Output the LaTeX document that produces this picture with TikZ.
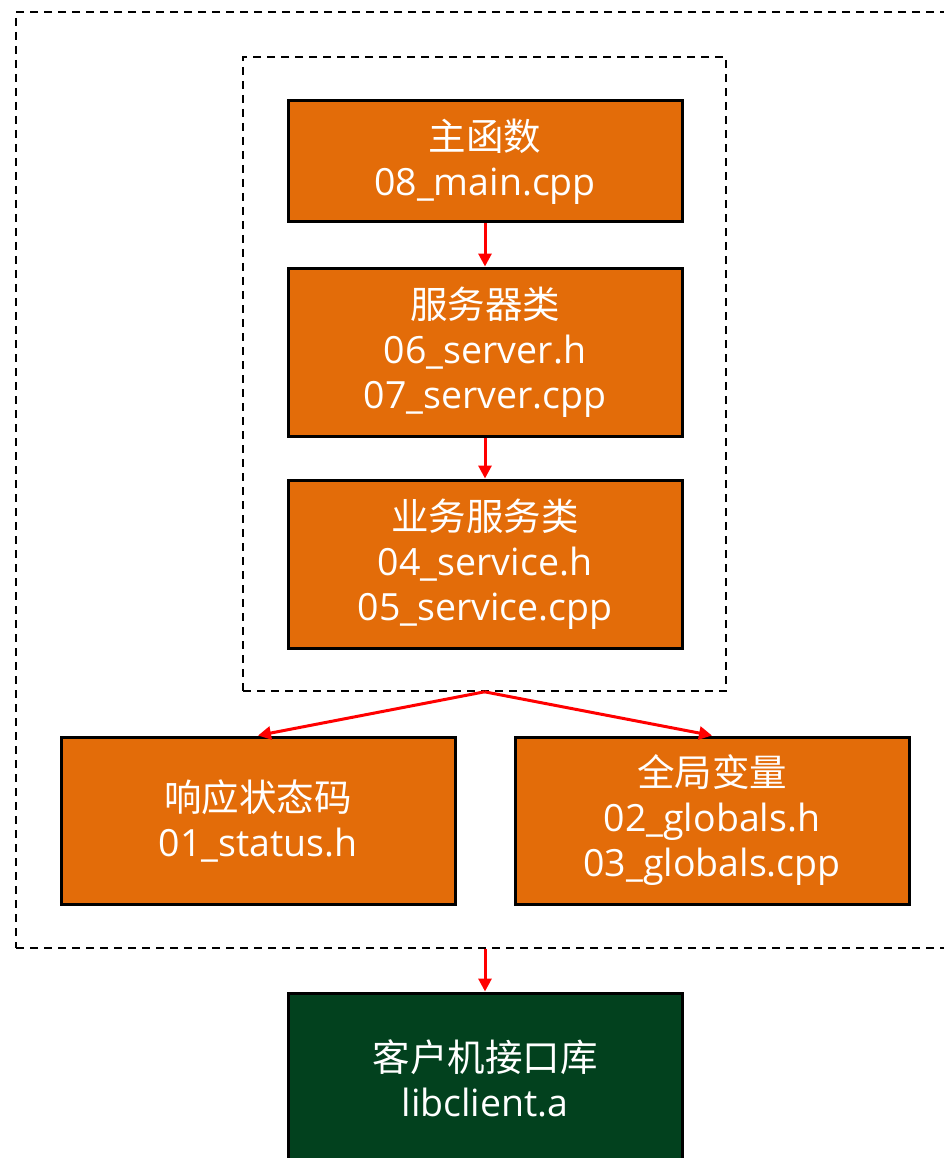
\documentclass[tikz,border=0pt]{standalone}
\usepackage{fontspec}
\setmainfont{Open Sans}
\newfontfamily\cjk{Noto Sans CJK SC}
\usetikzlibrary{arrows.meta}
\definecolor{boxorange}{HTML}{E36C09}
\definecolor{libgreen}{HTML}{02411E}
\definecolor{linkred}{HTML}{FF0000}

\tikzset{
  filebox/.style={draw=black, line width=3pt, fill=boxorange, text=white,
    align=center, inner sep=0pt, minimum width=394pt,
    font=\fontsize{37.5}{45}\selectfont},
  libbox/.style={filebox, fill=libgreen},
  groupframe/.style={draw=black, line width=1.6pt, dash pattern=on 8pt off 6pt,
    inner sep=0pt},
  link/.style={draw=linkred, line width=3pt,
    -{Triangle[length=13pt,width=13pt]}},
}

\begin{document}
\begin{tikzpicture}[x=1pt,y=-1pt]
\useasboundingbox (0,0) rectangle (944,1158);
\clip (0,0) rectangle (944,1158);

% outer module frame (runs past the right edge)
\node[groupframe, minimum width=950pt, minimum height=936pt] (outer) at (491,480) {};
% inner frame around the server chain
\node[groupframe, minimum width=483pt, minimum height=634pt] (inner) at (484.5,374) {};

% server chain
\node[filebox, minimum height=121pt] (main) at (485,161.5)
  {{\cjk 主函数}\\08\_main.cpp};
\node[filebox, minimum height=168pt] (server) at (485,352)
  {{\cjk 服务器类}\\06\_server.h\\07\_server.cpp};
\node[filebox, minimum height=168pt] (service) at (485,564)
  {{\cjk 业务服务类}\\04\_service.h\\05\_service.cpp};

% shared headers
\node[filebox, minimum height=167pt] (status) at (258,820.5)
  {{\cjk 响应状态码}\\01\_status.h};
\node[filebox, minimum height=167pt] (globals) at (712,820.5)
  {{\cjk 全局变量}\\02\_globals.h\\03\_globals.cpp};

% client library
\node[libbox, minimum height=170pt] (lib) at (485,1078)
  {{\cjk 客户机接口库}\\libclient.a};

% dependencies
\draw[link] (main.south) -- (server.north);
\draw[link] (server.south) -- (service.north);
\draw[link] (inner.south) -- (status.north);
\draw[link] (inner.south) -- (globals.north);
\draw[link] (lib.north |- outer.south) -- (lib.north);
\end{tikzpicture}
\end{document}
